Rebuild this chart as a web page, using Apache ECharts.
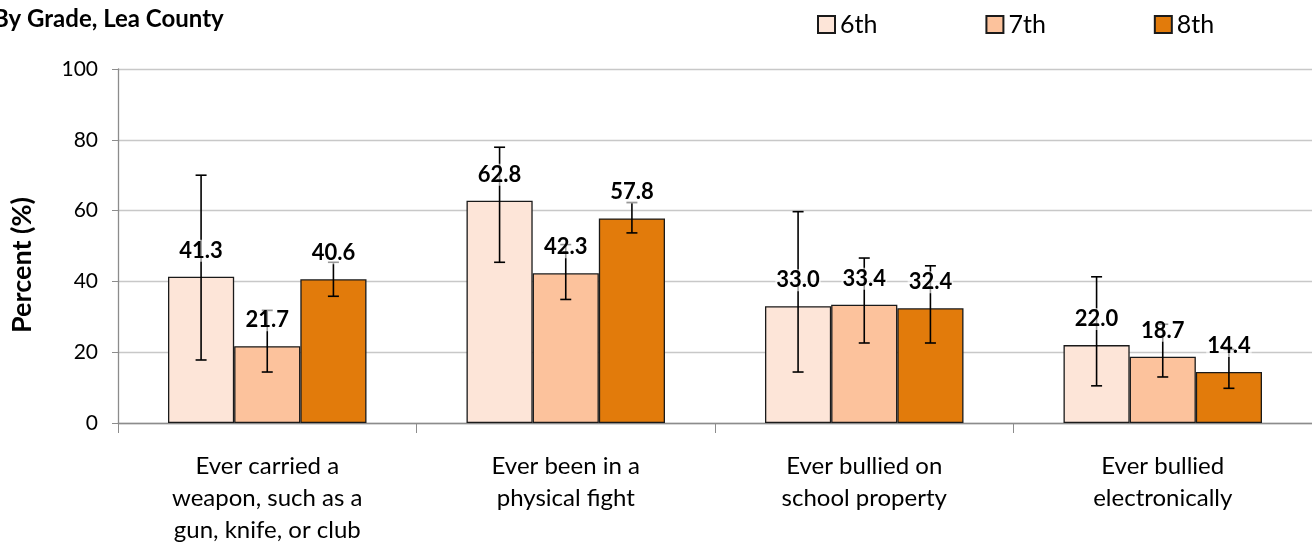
<!DOCTYPE html>
<html><head><meta charset="utf-8">
<script src="https://cdn.jsdelivr.net/npm/echarts@6/dist/echarts.min.js"></script>
<style>html,body{margin:0;padding:0;background:#fff}#c{width:1312px;height:546px}</style>
</head><body><div id="c"></div>
<script>
var categories = ['Ever carried a\nweapon, such as a\ngun, knife, or club', 'Ever been in a\nphysical fight', 'Ever bullied on\nschool property', 'Ever bullied\nelectronically'];
var grades = ['6th', '7th', '8th'];
var values6 = [41.3, 62.8, 33.0, 22.0];
var values7 = [21.7, 42.3, 33.4, 18.7];
var values8 = [40.6, 57.8, 32.4, 14.4];
var low6 = [17.8, 45.4, 14.4, 10.5];
var high6 = [70.0, 77.9, 59.7, 41.3];
var low7 = [14.4, 34.9, 22.6, 13.0];
var high7 = [31.8, 50.4, 46.6, 27.9];
var low8 = [35.8, 53.7, 22.6, 9.8];
var high8 = [45.4, 62.3, 44.4, 20.8];
var yTicks = [0, 20, 40, 60, 80, 100];

var FONT = 'Lato';
var colors = ['#FDE5D8', '#FCC29C', '#E27B0B'];
var values = [values6, values7, values8];
var lows = [low6, low7, low8];
var highs = [high6, high7, high8];
var catGap = 0.335;

var series = [];
grades.forEach(function (g, i) {
  series.push({
    name: g, type: 'bar', data: values[i], barGap: '0%', barCategoryGap: (catGap * 100) + '%',
    itemStyle: { color: colors[i], borderColor: '#1a1a1a', borderWidth: 1.3 }, z: 2
  });
});
grades.forEach(function (g, i) {
  series.push({
    type: 'custom', z: 5,
    data: values[i].map(function (v, k) { return [k, v, lows[i][k], highs[i][k]]; }),
    renderItem: function (params, api) {
      var k = api.value(0);
      var band = api.size([1, 0])[0];
      var bw = band * (1 - catGap) / 3;
      var dx = (i - 1) * bw;
      var pv = api.coord([k, api.value(1)]);
      var pl = api.coord([k, api.value(2)]);
      var ph = api.coord([k, api.value(3)]);
      var x = pv[0] + dx;
      var cap = 5.5;
      var st = { stroke: '#000', lineWidth: 1.6 };
      return {
        type: 'group',
        children: [
          { type: 'line', shape: { x1: x, y1: pl[1], x2: x, y2: ph[1] }, style: st },
          { type: 'line', shape: { x1: x - cap, y1: pl[1], x2: x + cap, y2: pl[1] }, style: st },
          { type: 'line', shape: { x1: x - cap, y1: ph[1], x2: x + cap, y2: ph[1] }, style: st },
          { type: 'text', x: x, y: pv[1] - 15, style: {
              text: api.value(1).toFixed(1), fill: '#000', font: 'bold 22px Lato, sans-serif',
              align: 'center', verticalAlign: 'bottom', backgroundColor: 'rgba(255,255,255,0.6)', padding: [0, 1, 0, 1] } }
        ]
      };
    }
  });
});

var chart = echarts.init(document.getElementById('c'));
chart.setOption({
  animation: false,
  title: { text: 'By Grade, Lea County', left: -12, top: 2, textStyle: { fontFamily: FONT, fontWeight: 'bold', fontSize: 24, color: '#000' } },
  legend: {
    data: grades, top: 7, left: 812, itemWidth: 17, itemHeight: 17, itemGap: 108, icon: 'rect',
    textStyle: { fontFamily: FONT, fontSize: 25, color: '#000', padding: [0, 0, 0, 0] }
  },
  grid: { left: 118, right: 0, top: 69, bottom: 122 },
  xAxis: {
    type: 'category', data: categories,
    axisLine: { lineStyle: { color: '#8c8c8c', width: 1.3 } },
    axisTick: { show: true, length: 10, lineStyle: { color: '#8c8c8c' } },
    axisLabel: { fontFamily: FONT, fontSize: 24, color: '#000', lineHeight: 32, margin: 27 }
  },
  yAxis: {
    type: 'value', min: yTicks[0], max: yTicks[yTicks.length - 1], interval: 20,
    name: 'Percent (%)', nameLocation: 'middle', nameGap: 82, nameRotate: 90,
    nameTextStyle: { fontFamily: FONT, fontWeight: 'bold', fontSize: 27, color: '#000', padding: [0, 38, 0, 0] },
    axisLine: { show: true, lineStyle: { color: '#8c8c8c', width: 1.3 } },
    axisTick: { show: true, length: 6, lineStyle: { color: '#8c8c8c' } },
    axisLabel: { fontFamily: FONT, fontSize: 21, color: '#000', margin: 20 },
    splitLine: { lineStyle: { color: '#c8c8c8', width: 1.3 } }
  },
  series: series
});
</script></body></html>
